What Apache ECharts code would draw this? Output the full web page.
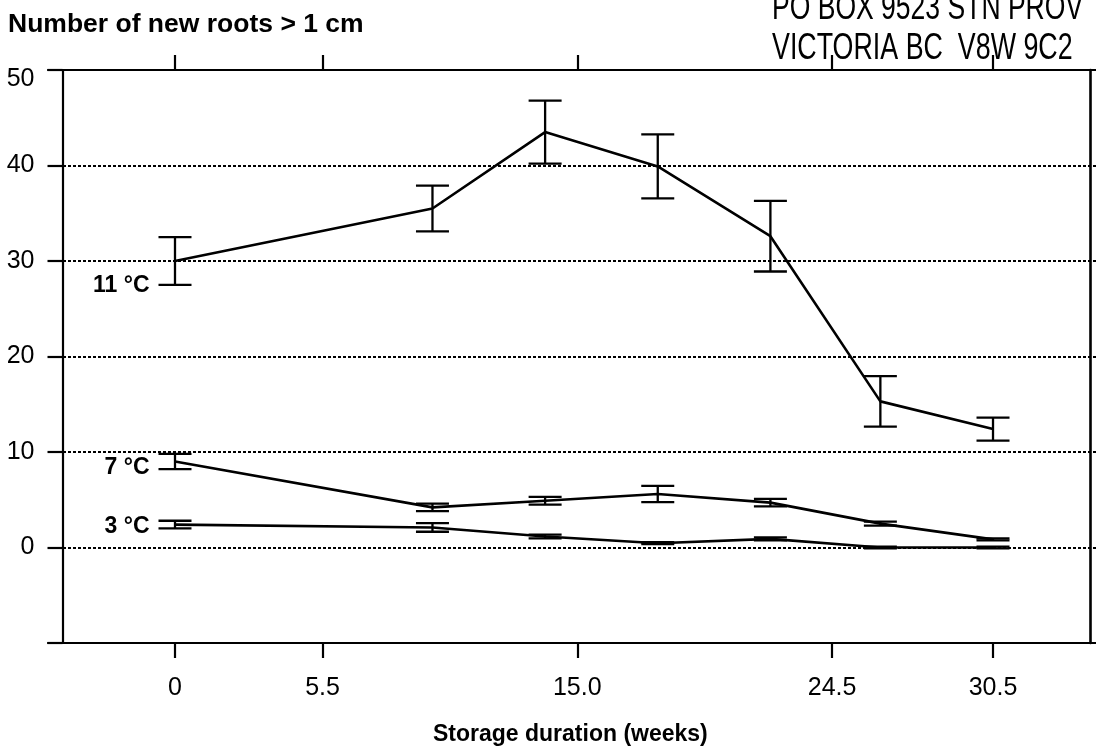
<!DOCTYPE html>
<html>
<head>
<meta charset="utf-8">
<script src="https://cdn.jsdelivr.net/npm/echarts@6.0.0/dist/echarts.min.js"></script>
<style>
  html, body { margin: 0; padding: 0; background: #fff; }
  #chart { width: 1096px; height: 753px; }
</style>
</head>
<body>
<div id="chart"></div>
<script>
// ---- data ----
const weeks = [0, 9.6, 13.8, 18.0, 22.2, 26.3, 30.5];

const roots11 = [30.0, 35.5, 43.5, 39.9, 32.6, 15.3, 12.4];
const err11   = [2.5, 2.4, 3.3, 3.35, 3.7, 2.65, 1.2];

const roots7  = [9.0, 4.2, 4.9, 5.6, 4.7, 2.5, 0.85];
const err7    = [0.8, 0.4, 0.4, 0.85, 0.4, 0.2, 0.1];

const roots3  = [2.4, 2.1, 1.15, 0.45, 0.9, 0.0, 0.0];
const err3    = [0.4, 0.45, 0.2, 0.1, 0.15, 0.1, 0.1];

const seriesNames = ['11 °C', '7 °C', '3 °C'];

const xTickValues = [0, 5.5, 15, 24.5, 30.5];
const xTickLabels = ['0', '5.5', '15.0', '24.5', '30.5'];

const yMin = -10, yMax = 50, yStep = 10;

// ---- build ----
const FONT = 'Liberation Sans, Arial, Helvetica, sans-serif';

function linePoints(vals, labelOffsetY) {
  return weeks.map((w, i) => {
    const item = { value: [w, vals[i]] };
    if (i === 0) {
      item.label = {
        show: true,
        position: 'left',
        distance: 25,
        offset: [0, labelOffsetY],
        formatter: '{a}',
        fontFamily: FONT,
        fontWeight: 'bold',
        fontSize: 23,
        color: '#000'
      };
    }
    return item;
  });
}

function errData(vals, errs) {
  return weeks.map((w, i) => [w, vals[i] - errs[i], vals[i] + errs[i]]);
}

function renderErr(params, api) {
  const x = api.value(0);
  const lo = api.coord([x, api.value(1)]);
  const hi = api.coord([x, api.value(2)]);
  const hw = 16.5;
  const st = { stroke: '#000', lineWidth: 2.3 };
  return {
    type: 'group',
    children: [
      { type: 'line', shape: { x1: lo[0], y1: lo[1], x2: hi[0], y2: hi[1] }, style: st },
      { type: 'line', shape: { x1: hi[0] - hw, y1: hi[1], x2: hi[0] + hw, y2: hi[1] }, style: st },
      { type: 'line', shape: { x1: lo[0] - hw, y1: lo[1], x2: lo[0] + hw, y2: lo[1] }, style: st }
    ]
  };
}

function lineSeries(name, vals, off) {
  return {
    name: name,
    type: 'line',
    data: linePoints(vals, off),
    symbol: 'circle',
    symbolSize: 1,
    showSymbol: true,
    itemStyle: { color: '#000' },
    lineStyle: { color: '#000', width: 2.6 },
    z: 3,
    animation: false
  };
}

function errSeries(vals, errs) {
  return {
    type: 'custom',
    renderItem: renderErr,
    data: errData(vals, errs),
    encode: { x: 0, y: [1, 2] },
    z: 4,
    silent: true,
    animation: false
  };
}

const chart = echarts.init(document.getElementById('chart'), null, { renderer: 'canvas' });

const xMin = -4.735, xMax = 34.34;

chart.setOption({
  backgroundColor: '#fff',
  animation: false,
  title: [
    {
      text: 'Number of new roots > 1 cm',
      left: 8, top: 11, padding: 0,
      textStyle: { fontFamily: FONT, fontWeight: 'bold', fontSize: 26.5, color: '#000' }
    },
    {
      text: 'Storage duration (weeks)',
      left: 433, top: 723, padding: 0,
      textStyle: { fontFamily: FONT, fontWeight: 'bold', fontSize: 23, color: '#000' }
    }
  ],
  graphic: [
    {
      type: 'text', x: 772, y: 9, scaleX: 0.717, scaleY: 1,
      style: { text: 'PO BOX 9523 STN PROV', font: '37px "Liberation Sans", Arial, sans-serif', fill: '#000', align: 'left', verticalAlign: 'middle' }
    },
    {
      type: 'text', x: 772, y: 49, scaleX: 0.725, scaleY: 1,
      style: { text: 'VICTORIA BC  V8W 9C2', font: '37px "Liberation Sans", Arial, sans-serif', fill: '#000', align: 'left', verticalAlign: 'middle' }
    }
  ],
  grid: { left: 48, right: 0, top: 70, bottom: 110, containLabel: false },
  xAxis: [
    {
      type: 'value', position: 'bottom', min: xMin, max: xMax,
      axisLine: { show: true, onZero: false, lineStyle: { color: '#000', width: 2.2 } },
      axisTick: { show: true, customValues: xTickValues, length: 15, inside: false, lineStyle: { color: '#000', width: 2.2 } },
      axisLabel: {
        show: true, customValues: xTickValues, margin: 33,
        fontFamily: FONT, fontSize: 25, color: '#000',
        formatter: v => { const i = xTickValues.indexOf(v); return i >= 0 ? xTickLabels[i] : ''; }
      },
      splitLine: { show: false }
    },
    {
      type: 'value', position: 'top', min: xMin, max: xMax,
      axisLine: { show: true, onZero: false, lineStyle: { color: '#000', width: 2.2 } },
      axisTick: { show: true, customValues: xTickValues, length: 15, inside: false, lineStyle: { color: '#000', width: 2.2 } },
      axisLabel: { show: false },
      splitLine: { show: false }
    }
  ],
  yAxis: [
    {
      type: 'value', position: 'left', offset: -14.5,
      min: yMin, max: yMax, interval: yStep,
      axisLine: { show: true, onZero: false, lineStyle: { color: '#000', width: 2.2 } },
      axisTick: { show: true, length: 15, inside: false, lineStyle: { color: '#000', width: 2.2 } },
      axisLabel: {
        show: true, margin: 28, fontFamily: FONT, fontSize: 25, color: '#000',
        formatter: v => (v === yMin ? '' : (v === yMax ? '{top|' + v + '}' : String(v))),
        rich: { top: { fontFamily: FONT, fontSize: 25, color: '#000', padding: [18, 0, 0, 0] } }
      },
      splitLine: { show: true, lineStyle: { color: '#000', width: 1.8, type: [3, 2] } }
    },
    {
      type: 'value', position: 'right', offset: -5.5,
      min: yMin, max: yMax, interval: yStep,
      axisLine: { show: true, onZero: false, lineStyle: { color: '#000', width: 2.6 } },
      axisTick: { show: false },
      axisLabel: { show: false },
      splitLine: { show: false }
    }
  ],
  series: [
    lineSeries(seriesNames[0], roots11, 25),
    errSeries(roots11, err11),
    lineSeries(seriesNames[1], roots7, 6),
    errSeries(roots7, err7),
    lineSeries(seriesNames[2], roots3, 2),
    errSeries(roots3, err3)
  ]
});
</script>
</body>
</html>
